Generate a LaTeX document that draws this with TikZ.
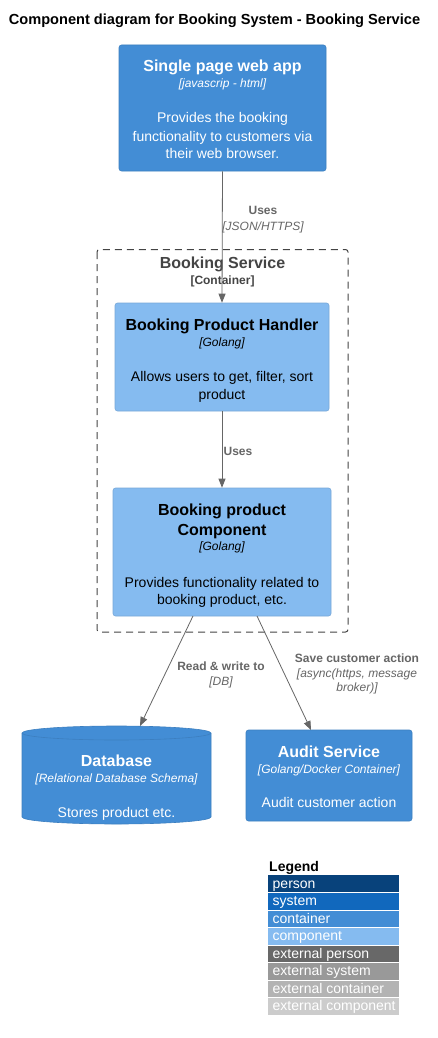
\documentclass[tikz,border=0pt]{standalone}
\usepackage{fontspec}
\setmainfont{Liberation Sans}
\usetikzlibrary{arrows.meta,shapes.geometric}
\definecolor{cperson}{HTML}{08427B}
\definecolor{csystem}{HTML}{1168BD}
\definecolor{ccontainer}{HTML}{438DD5}
\definecolor{ccomponent}{HTML}{85BBF0}
\definecolor{cextperson}{HTML}{686868}
\definecolor{cextsystem}{HTML}{999999}
\definecolor{cextcontainer}{HTML}{B3B3B3}
\definecolor{cextcomponent}{HTML}{CCCCCC}
\definecolor{carrow}{HTML}{666666}
\definecolor{cbound}{HTML}{444444}
\definecolor{cboxline}{HTML}{3C7FC0}
\definecolor{ccompline}{HTML}{78A8D8}
\tikzset{
  box/.style={draw=#1, rounded corners=2.5pt, line width=0.6pt, inner sep=0pt},
  ttl/.style={anchor=base, font=\fontsize{16}{19}\selectfont\bfseries},
  tech/.style={anchor=base, font=\fontsize{12}{14}\selectfont\itshape},
  desc/.style={anchor=base, font=\fontsize{14}{17}\selectfont},
  lbl/.style={anchor=base, text=carrow, font=\fontsize{12}{14}\selectfont\bfseries},
  lbltech/.style={anchor=base, text=carrow, font=\fontsize{12}{14}\selectfont\itshape},
  conn/.style={draw=carrow, line width=0.8pt, -{Triangle[length=9pt,width=7pt]}},
  legrow/.style={anchor=north west, minimum width=131pt, minimum height=17.5pt, inner sep=0pt},
  legtxt/.style={anchor=base west, inner sep=0pt, text=white, font=\fontsize{14}{17}\selectfont},
}
\begin{document}
\begin{tikzpicture}[x=1pt,y=-1pt]
\useasboundingbox[fill=white] (0,0) rectangle (437,1038);
% title
\node[anchor=base, font=\fontsize{14.6}{17}\selectfont\bfseries] (title) at (214.5,25) {Component diagram for Booking System - Booking Service};

% Single page web app
\node[box=cboxline, fill=ccontainer, minimum width=207pt, minimum height=126pt] (spa) at (222.5,108) {};
\node[ttl, text=white] (spat) at (222.5,72) {Single page web app};
\node[tech, text=white] (spatech) at (222.5,87.5) {[javascrip - html]};
\node[desc, text=white] (spad1) at (222.5,123) {Provides the booking};
\node[desc, text=white] (spad2) at (222.5,141) {functionality to customers via};
\node[desc, text=white] (spad3) at (222.5,158) {their web browser.};

% boundary
\draw[cbound, dashed, dash pattern=on 7pt off 5pt, line width=1pt, rounded corners=2.5pt] (97,249.5) rectangle (348,632);
\node[anchor=base, text=cbound, font=\fontsize{16}{19}\selectfont\bfseries] (bst) at (222.5,268) {Booking Service};
\node[anchor=base, text=cbound, font=\fontsize{12}{14}\selectfont\bfseries] (bsc) at (222.5,284) {[Container]};

% Handler
\node[box=ccompline, fill=ccomponent, minimum width=214pt, minimum height=108pt] (handler) at (222,357) {};
\node[ttl] (ht) at (222,330) {Booking Product Handler};
\node[tech] (htech) at (222,346) {[Golang]};
\node[desc] (hd1) at (222,381) {Allows users to get, filter, sort};
\node[desc] (hd2) at (222,399) {product};

% Component
\node[box=ccompline, fill=ccomponent, minimum width=218pt, minimum height=128pt] (comp) at (222,552) {};
\node[ttl] (ct1) at (222,515) {Booking product};
\node[ttl] (ct2) at (222,535) {Component};
\node[tech] (ctech) at (222,550) {[Golang]};
\node[desc] (cd1) at (222,587) {Provides functionality related to};
\node[desc] (cd2) at (222,604) {booking product, etc.};

% Database cylinder
\path[fill=ccontainer, draw=cboxline, line width=0.6pt] (22,733) -- (22,817) arc[start angle=180,end angle=0,x radius=94.5,y radius=7] -- (211,733) arc[start angle=0,end angle=-180,x radius=94.5,y radius=7] -- cycle;
\draw[cboxline, line width=0.6pt] (22,733) arc[start angle=180,end angle=0,x radius=94.5,y radius=7];
\node[minimum width=189pt, minimum height=98pt, inner sep=0pt] (db) at (116.5,775) {};
\node[ttl, text=white] (dbt) at (116.5,766) {Database};
\node[tech, text=white] (dbtech) at (116.5,782) {[Relational Database Schema]};
\node[desc, text=white] (dbd) at (116.5,817) {Stores product etc.};

% Audit
\node[box=cboxline, fill=ccontainer, minimum width=166pt, minimum height=91pt] (audit) at (329,775.5) {};
\node[ttl, text=white] (at) at (329,757) {Audit Service};
\node[tech, text=white] (atech) at (329,773) {[Golang/Docker Container]};
\node[desc, text=white] (ad) at (329,807) {Audit customer action};

% connectors
\draw[conn] (spa.south) -- (handler.north);
\node[lbl] (l1a) at (263,214) {Uses};
\node[lbltech] (l1b) at (263,230) {[JSON/HTTPS]};

\draw[conn] (handler.south) -- (comp.north);
\node[lbl] (l2a) at (238,455) {Uses};

\coordinate (c3s) at (193,616);
\coordinate (c3e) at (140,726);
\draw[conn] (c3s) -- (c3e);
\node[lbl] (l3a) at (221,670) {Read \& write to};
\node[lbltech] (l3b) at (221,685) {[DB]};

\coordinate (c4s) at (257,616);
\coordinate (c4e) at (311,730);
\draw[conn] (c4s) -- (c4e);
\node[lbl] (l4a) at (357,662) {Save customer action};
\node[lbltech] (l4b) at (357,677) {[async(https, message};
\node[lbltech] (l4c) at (357,691) {broker)]};

% legend
\node[anchor=base west, inner sep=0pt, font=\fontsize{14}{17}\selectfont\bfseries] (legt) at (269,871) {Legend};
\node[legrow, fill=cperson] (lg1) at (268,875) {};
\node[legrow, fill=csystem] (lg2) at (268,892.5) {};
\node[legrow, fill=ccontainer] (lg3) at (268,910) {};
\node[legrow, fill=ccomponent] (lg4) at (268,927.5) {};
\node[legrow, fill=cextperson] (lg5) at (268,945) {};
\node[legrow, fill=cextsystem] (lg6) at (268,962.5) {};
\node[legrow, fill=cextcontainer] (lg7) at (268,980) {};
\node[legrow, fill=cextcomponent] (lg8) at (268,997.5) {};
\draw[white, line width=0.8pt] (268,892.5) -- (399,892.5) (268,910) -- (399,910) (268,927.5) -- (399,927.5) (268,945) -- (399,945) (268,962.5) -- (399,962.5) (268,980) -- (399,980) (268,997.5) -- (399,997.5);
\node[legtxt] (lt1) at (272.5,888) {person};
\node[legtxt] (lt2) at (272.5,905.5) {system};
\node[legtxt] (lt3) at (272.5,923) {container};
\node[legtxt] (lt4) at (272.5,940.5) {component};
\node[legtxt] (lt5) at (272.5,958) {external person};
\node[legtxt] (lt6) at (272.5,975.5) {external system};
\node[legtxt] (lt7) at (272.5,993) {external container};
\node[legtxt] (lt8) at (272.5,1010.5) {external component};
\end{tikzpicture}
\end{document}
